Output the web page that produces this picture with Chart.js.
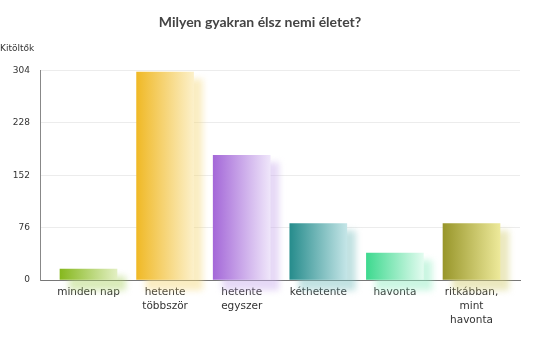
<!DOCTYPE html>
<html>
<head>
<meta charset="utf-8">
<script src="https://cdn.jsdelivr.net/npm/chart.js@4"></script>
<style>
html,body{margin:0;padding:0;background:#fff;}
#wrap{width:550px;height:354px;}
</style>
</head>
<body>
<div id="wrap"><canvas id="c"></canvas></div>
<script>
const categories = ["minden nap", "hetente többször", "hetente egyszer", "kéthetente", "havonta", "ritkábban, mint havonta"];
const labelLines = [["minden nap"], ["hetente", "többször"], ["hetente", "egyszer"], ["kéthetente"], ["havonta"], ["ritkábban,", "mint", "havonta"]];
const respondents = [16, 302, 181, 82, 39, 82];
const yTicks = [0, 76, 152, 228, 304];
const colorsLeft = ["#86b81e", "#f0b926", "#a468d8", "#268c8c", "#3ed98f", "#98962a"];
const colorsRight = ["#e2efc2", "#fcf0c9", "#efe6fa", "#c4e5e7", "#e2fbef", "#ede99a"];
const shadowColors = ["rgba(170,210,100,0.45)", "rgba(245,215,120,0.45)", "rgba(200,170,235,0.45)", "rgba(120,190,190,0.45)", "rgba(140,235,190,0.45)", "rgba(210,205,110,0.45)"];

const BAR_W = 57;

const shadowPlugin = {
  id: 'barShadow',
  beforeDatasetsDraw(chart) {
    const ctx = chart.ctx;
    const meta = chart.getDatasetMeta(0);
    ctx.save();
    ctx.filter = 'blur(3px)';
    meta.data.forEach((el, i) => {
      const p = el.getProps(['x', 'y', 'base', 'width'], true);
      ctx.fillStyle = shadowColors[i];
      ctx.fillRect(p.x - p.width / 2 + 9, p.y + 7, p.width, p.base - p.y + 4);
    });
    ctx.restore();
  }
};

function barGradient(context) {
  const chart = context.chart;
  const i = context.dataIndex;
  if (!chart.chartArea || i === undefined) return colorsLeft[i || 0];
  const xs = chart.scales.x;
  const cx = xs.getPixelForValue(i);
  const g = chart.ctx.createLinearGradient(cx - BAR_W / 2, 0, cx + BAR_W / 2, 0);
  g.addColorStop(0, colorsLeft[i]);
  g.addColorStop(1, colorsRight[i]);
  return g;
}

new Chart(document.getElementById('c'), {
  type: 'bar',
  data: {
    datasets: [{
      label: 'Kitöltők',
      data: respondents.map((v, i) => ({x: i, y: v})),
      backgroundColor: barGradient,
      borderWidth: 0,
      barThickness: BAR_W
    }]
  },
  plugins: [shadowPlugin],
  options: {
    responsive: true,
    maintainAspectRatio: false,
    animation: false,
    layout: {padding: {left: 0, right: 30, top: 0, bottom: 0}},
    plugins: {
      legend: {display: false},
      tooltip: {enabled: false},
      title: {
        display: true,
        text: 'Milyen gyakran élsz nemi életet?',
        color: '#444',
        font: {family: 'Lato', size: 14, weight: 'bold'},
        padding: {top: 14, bottom: 12}
      },
      subtitle: {
        display: true,
        text: 'Kitöltők',
        align: 'start',
        color: '#333',
        font: {family: 'DejaVu Sans', size: 9},
        padding: {top: 0, bottom: 17}
      }
    },
    scales: {
      x: {
        type: 'linear',
        offset: false,
        min: -0.633,
        max: 5.633,
        grid: {display: false, drawTicks: false, offset: false},
        border: {display: true, color: '#777', width: 1},
        afterBuildTicks(scale) { scale.ticks = categories.map((_, i) => ({value: i})); },
        afterFit(scale) { scale.height = 74; },
        ticks: {
          autoSkip: false,
          maxRotation: 0,
          padding: 5,
          color: '#333',
          font: {family: 'DejaVu Sans', size: 10.5, lineHeight: '14px'},
          callback: (v) => labelLines[v] || ''
        }
      },
      y: {
        min: 0,
        max: 304,
        afterBuildTicks(scale) { scale.ticks = yTicks.map(v => ({value: v})); },
        afterFit(scale) { scale.width = 40; },
        grid: {color: '#ececec', drawTicks: false},
        border: {display: true, color: '#888', width: 1},
        ticks: {
          padding: 10,
          color: '#333',
          font: {family: 'DejaVu Sans', size: 9}
        }
      }
    }
  }
});
</script>
</body>
</html>
